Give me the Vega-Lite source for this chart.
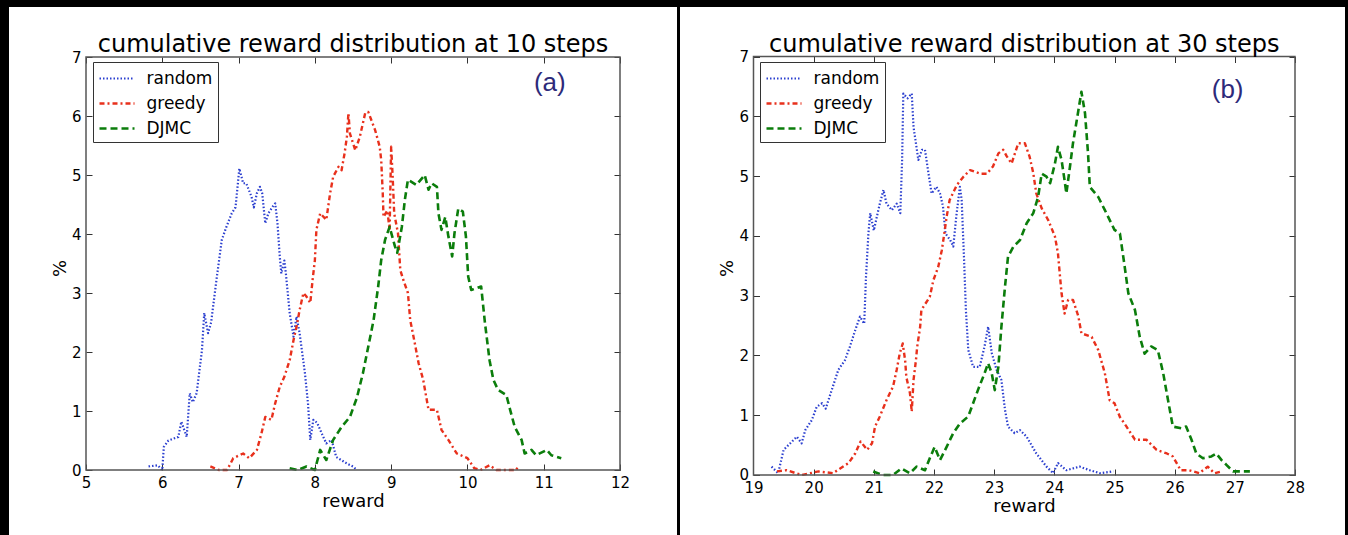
{
  "$schema": "https://vega.github.io/schema/vega-lite/v6.json",
  "background": "black",
  "padding": {"left": 9, "top": 7, "right": 3, "bottom": 0},
  "spacing": 3,
  "config": {
    "view": {"fill": "white", "stroke": null},
    "font": "DejaVu Sans",
    "axis": {"labelFont": "DejaVu Sans", "labelFontSize": 15, "labelColor": "black", "tickColor": "#333", "tickWidth": 1, "grid": false, "domain": false, "titleFont": "DejaVu Sans", "titleFontSize": 18, "titleFontWeight": "normal", "titleColor": "black", "labelFlush": false, "labelOverlap": false},
    "legend": {"orient": "none", "direction": "vertical", "title": null, "strokeColor": "#333", "fillColor": "white", "padding": 5, "cornerRadius": 0, "symbolType": "M-1.75,0H1.75", "symbolSize": 400, "symbolOffset": 7.5, "symbolStrokeWidth": 2.5, "labelFontSize": 17, "labelFont": "DejaVu Sans", "labelColor": "black", "labelOffset": 18, "rowPadding": 5}
  },
  "datasets": {
    "a": [
      {"method": "random", "reward": 5.82, "pct": 0.06}, {"method": "random", "reward": 5.94, "pct": 0.08}, {"method": "random", "reward": 6.0, "pct": 0.0}, {"method": "random", "reward": 6.02, "pct": 0.39}, {"method": "random", "reward": 6.08, "pct": 0.5}, {"method": "random", "reward": 6.21, "pct": 0.56}, {"method": "random", "reward": 6.25, "pct": 0.82}, {"method": "random", "reward": 6.32, "pct": 0.56}, {"method": "random", "reward": 6.36, "pct": 1.3}, {"method": "random", "reward": 6.4, "pct": 1.15}, {"method": "random", "reward": 6.45, "pct": 1.3}, {"method": "random", "reward": 6.52, "pct": 2.03}, {"method": "random", "reward": 6.55, "pct": 2.66}, {"method": "random", "reward": 6.6, "pct": 2.32}, {"method": "random", "reward": 6.64, "pct": 2.5}, {"method": "random", "reward": 6.71, "pct": 3.22}, {"method": "random", "reward": 6.78, "pct": 3.9}, {"method": "random", "reward": 6.84, "pct": 4.12}, {"method": "random", "reward": 6.91, "pct": 4.35}, {"method": "random", "reward": 6.96, "pct": 4.45}, {"method": "random", "reward": 7.01, "pct": 5.11}, {"method": "random", "reward": 7.06, "pct": 4.86}, {"method": "random", "reward": 7.1, "pct": 4.86}, {"method": "random", "reward": 7.17, "pct": 4.63}, {"method": "random", "reward": 7.2, "pct": 4.45}, {"method": "random", "reward": 7.24, "pct": 4.69}, {"method": "random", "reward": 7.28, "pct": 4.8}, {"method": "random", "reward": 7.31, "pct": 4.69}, {"method": "random", "reward": 7.35, "pct": 4.18}, {"method": "random", "reward": 7.39, "pct": 4.35}, {"method": "random", "reward": 7.44, "pct": 4.45}, {"method": "random", "reward": 7.48, "pct": 4.52}, {"method": "random", "reward": 7.51, "pct": 4.18}, {"method": "random", "reward": 7.54, "pct": 3.62}, {"method": "random", "reward": 7.56, "pct": 3.33}, {"method": "random", "reward": 7.6, "pct": 3.55}, {"method": "random", "reward": 7.62, "pct": 3.33}, {"method": "random", "reward": 7.67, "pct": 2.66}, {"method": "random", "reward": 7.72, "pct": 2.26}, {"method": "random", "reward": 7.76, "pct": 2.6}, {"method": "random", "reward": 7.8, "pct": 2.32}, {"method": "random", "reward": 7.87, "pct": 1.64}, {"method": "random", "reward": 7.91, "pct": 1.13}, {"method": "random", "reward": 7.94, "pct": 0.51}, {"method": "random", "reward": 7.98, "pct": 0.85}, {"method": "random", "reward": 8.03, "pct": 0.8}, {"method": "random", "reward": 8.09, "pct": 0.62}, {"method": "random", "reward": 8.15, "pct": 0.45}, {"method": "random", "reward": 8.22, "pct": 0.51}, {"method": "random", "reward": 8.28, "pct": 0.22}, {"method": "random", "reward": 8.42, "pct": 0.11}, {"method": "random", "reward": 8.5, "pct": 0.06}, {"method": "random", "reward": 8.55, "pct": 0.0},
      {"method": "greedy", "reward": 6.63, "pct": 0.06}, {"method": "greedy", "reward": 6.74, "pct": 0.0}, {"method": "greedy", "reward": 6.85, "pct": 0.0}, {"method": "greedy", "reward": 6.93, "pct": 0.2}, {"method": "greedy", "reward": 7.06, "pct": 0.28}, {"method": "greedy", "reward": 7.14, "pct": 0.2}, {"method": "greedy", "reward": 7.24, "pct": 0.34}, {"method": "greedy", "reward": 7.3, "pct": 0.62}, {"method": "greedy", "reward": 7.35, "pct": 0.9}, {"method": "greedy", "reward": 7.43, "pct": 0.85}, {"method": "greedy", "reward": 7.48, "pct": 1.13}, {"method": "greedy", "reward": 7.54, "pct": 1.41}, {"method": "greedy", "reward": 7.6, "pct": 1.58}, {"method": "greedy", "reward": 7.67, "pct": 1.86}, {"method": "greedy", "reward": 7.72, "pct": 2.2}, {"method": "greedy", "reward": 7.76, "pct": 2.43}, {"method": "greedy", "reward": 7.8, "pct": 2.71}, {"method": "greedy", "reward": 7.85, "pct": 3.0}, {"method": "greedy", "reward": 7.89, "pct": 2.94}, {"method": "greedy", "reward": 7.94, "pct": 2.83}, {"method": "greedy", "reward": 7.97, "pct": 3.22}, {"method": "greedy", "reward": 8.0, "pct": 3.55}, {"method": "greedy", "reward": 8.02, "pct": 4.07}, {"method": "greedy", "reward": 8.07, "pct": 4.35}, {"method": "greedy", "reward": 8.15, "pct": 4.24}, {"method": "greedy", "reward": 8.2, "pct": 4.69}, {"method": "greedy", "reward": 8.24, "pct": 4.97}, {"method": "greedy", "reward": 8.31, "pct": 5.14}, {"method": "greedy", "reward": 8.35, "pct": 5.08}, {"method": "greedy", "reward": 8.39, "pct": 5.37}, {"method": "greedy", "reward": 8.42, "pct": 5.65}, {"method": "greedy", "reward": 8.44, "pct": 6.05}, {"method": "greedy", "reward": 8.46, "pct": 5.7}, {"method": "greedy", "reward": 8.53, "pct": 5.42}, {"method": "greedy", "reward": 8.59, "pct": 5.65}, {"method": "greedy", "reward": 8.66, "pct": 6.05}, {"method": "greedy", "reward": 8.7, "pct": 6.07}, {"method": "greedy", "reward": 8.79, "pct": 5.76}, {"method": "greedy", "reward": 8.85, "pct": 5.48}, {"method": "greedy", "reward": 8.87, "pct": 5.25}, {"method": "greedy", "reward": 8.89, "pct": 4.69}, {"method": "greedy", "reward": 8.9, "pct": 4.29}, {"method": "greedy", "reward": 8.95, "pct": 4.4}, {"method": "greedy", "reward": 8.98, "pct": 4.07}, {"method": "greedy", "reward": 9.0, "pct": 5.48}, {"method": "greedy", "reward": 9.02, "pct": 4.97}, {"method": "greedy", "reward": 9.04, "pct": 4.35}, {"method": "greedy", "reward": 9.09, "pct": 4.01}, {"method": "greedy", "reward": 9.12, "pct": 3.39}, {"method": "greedy", "reward": 9.16, "pct": 3.22}, {"method": "greedy", "reward": 9.22, "pct": 3.0}, {"method": "greedy", "reward": 9.25, "pct": 2.54}, {"method": "greedy", "reward": 9.31, "pct": 2.15}, {"method": "greedy", "reward": 9.36, "pct": 1.81}, {"method": "greedy", "reward": 9.42, "pct": 1.53}, {"method": "greedy", "reward": 9.49, "pct": 1.02}, {"method": "greedy", "reward": 9.6, "pct": 1.02}, {"method": "greedy", "reward": 9.66, "pct": 0.68}, {"method": "greedy", "reward": 9.75, "pct": 0.51}, {"method": "greedy", "reward": 9.86, "pct": 0.28}, {"method": "greedy", "reward": 10.0, "pct": 0.2}, {"method": "greedy", "reward": 10.09, "pct": 0.03}, {"method": "greedy", "reward": 10.17, "pct": 0.0}, {"method": "greedy", "reward": 10.29, "pct": 0.08}, {"method": "greedy", "reward": 10.38, "pct": 0.0}, {"method": "greedy", "reward": 10.64, "pct": 0.0}, {"method": "greedy", "reward": 10.66, "pct": 0.06},
      {"method": "DJMC", "reward": 7.67, "pct": 0.03}, {"method": "DJMC", "reward": 7.78, "pct": 0.0}, {"method": "DJMC", "reward": 7.89, "pct": 0.06}, {"method": "DJMC", "reward": 8.0, "pct": 0.0}, {"method": "DJMC", "reward": 8.07, "pct": 0.34}, {"method": "DJMC", "reward": 8.15, "pct": 0.17}, {"method": "DJMC", "reward": 8.24, "pct": 0.51}, {"method": "DJMC", "reward": 8.35, "pct": 0.73}, {"method": "DJMC", "reward": 8.46, "pct": 0.9}, {"method": "DJMC", "reward": 8.55, "pct": 1.22}, {"method": "DJMC", "reward": 8.63, "pct": 1.64}, {"method": "DJMC", "reward": 8.7, "pct": 2.09}, {"method": "DJMC", "reward": 8.77, "pct": 2.54}, {"method": "DJMC", "reward": 8.83, "pct": 3.11}, {"method": "DJMC", "reward": 8.87, "pct": 3.56}, {"method": "DJMC", "reward": 8.92, "pct": 3.9}, {"method": "DJMC", "reward": 8.98, "pct": 4.12}, {"method": "DJMC", "reward": 9.05, "pct": 3.79}, {"method": "DJMC", "reward": 9.08, "pct": 3.68}, {"method": "DJMC", "reward": 9.14, "pct": 4.12}, {"method": "DJMC", "reward": 9.18, "pct": 4.58}, {"method": "DJMC", "reward": 9.22, "pct": 4.92}, {"method": "DJMC", "reward": 9.33, "pct": 4.83}, {"method": "DJMC", "reward": 9.44, "pct": 5.0}, {"method": "DJMC", "reward": 9.49, "pct": 4.75}, {"method": "DJMC", "reward": 9.53, "pct": 4.86}, {"method": "DJMC", "reward": 9.6, "pct": 4.8}, {"method": "DJMC", "reward": 9.62, "pct": 4.35}, {"method": "DJMC", "reward": 9.66, "pct": 4.07}, {"method": "DJMC", "reward": 9.71, "pct": 4.29}, {"method": "DJMC", "reward": 9.75, "pct": 3.96}, {"method": "DJMC", "reward": 9.8, "pct": 3.62}, {"method": "DJMC", "reward": 9.83, "pct": 4.01}, {"method": "DJMC", "reward": 9.88, "pct": 4.43}, {"method": "DJMC", "reward": 9.94, "pct": 4.38}, {"method": "DJMC", "reward": 9.98, "pct": 3.96}, {"method": "DJMC", "reward": 10.01, "pct": 3.28}, {"method": "DJMC", "reward": 10.05, "pct": 3.05}, {"method": "DJMC", "reward": 10.18, "pct": 3.11}, {"method": "DJMC", "reward": 10.23, "pct": 2.49}, {"method": "DJMC", "reward": 10.29, "pct": 1.86}, {"method": "DJMC", "reward": 10.34, "pct": 1.53}, {"method": "DJMC", "reward": 10.4, "pct": 1.36}, {"method": "DJMC", "reward": 10.51, "pct": 1.27}, {"method": "DJMC", "reward": 10.56, "pct": 1.02}, {"method": "DJMC", "reward": 10.62, "pct": 0.73}, {"method": "DJMC", "reward": 10.71, "pct": 0.51}, {"method": "DJMC", "reward": 10.75, "pct": 0.28}, {"method": "DJMC", "reward": 10.84, "pct": 0.34}, {"method": "DJMC", "reward": 10.9, "pct": 0.25}, {"method": "DJMC", "reward": 11.04, "pct": 0.34}, {"method": "DJMC", "reward": 11.1, "pct": 0.25}, {"method": "DJMC", "reward": 11.23, "pct": 0.2}
    ],
    "b": [
      {"method": "random", "reward": 19.3, "pct": 0.14}, {"method": "random", "reward": 19.41, "pct": 0.03}, {"method": "random", "reward": 19.5, "pct": 0.42}, {"method": "random", "reward": 19.58, "pct": 0.5}, {"method": "random", "reward": 19.72, "pct": 0.64}, {"method": "random", "reward": 19.8, "pct": 0.53}, {"method": "random", "reward": 19.86, "pct": 0.75}, {"method": "random", "reward": 19.97, "pct": 0.92}, {"method": "random", "reward": 20.05, "pct": 1.14}, {"method": "random", "reward": 20.14, "pct": 1.2}, {"method": "random", "reward": 20.2, "pct": 1.11}, {"method": "random", "reward": 20.3, "pct": 1.42}, {"method": "random", "reward": 20.41, "pct": 1.76}, {"method": "random", "reward": 20.52, "pct": 1.92}, {"method": "random", "reward": 20.6, "pct": 2.14}, {"method": "random", "reward": 20.69, "pct": 2.42}, {"method": "random", "reward": 20.77, "pct": 2.65}, {"method": "random", "reward": 20.84, "pct": 2.53}, {"method": "random", "reward": 20.87, "pct": 3.32}, {"method": "random", "reward": 20.91, "pct": 4.04}, {"method": "random", "reward": 20.94, "pct": 4.38}, {"method": "random", "reward": 21.0, "pct": 4.09}, {"method": "random", "reward": 21.05, "pct": 4.32}, {"method": "random", "reward": 21.1, "pct": 4.54}, {"method": "random", "reward": 21.16, "pct": 4.77}, {"method": "random", "reward": 21.21, "pct": 4.54}, {"method": "random", "reward": 21.3, "pct": 4.43}, {"method": "random", "reward": 21.38, "pct": 4.54}, {"method": "random", "reward": 21.44, "pct": 4.38}, {"method": "random", "reward": 21.47, "pct": 5.27}, {"method": "random", "reward": 21.49, "pct": 6.38}, {"method": "random", "reward": 21.56, "pct": 6.3}, {"method": "random", "reward": 21.63, "pct": 6.38}, {"method": "random", "reward": 21.66, "pct": 5.82}, {"method": "random", "reward": 21.74, "pct": 5.27}, {"method": "random", "reward": 21.8, "pct": 5.44}, {"method": "random", "reward": 21.85, "pct": 5.44}, {"method": "random", "reward": 21.9, "pct": 5.1}, {"method": "random", "reward": 21.96, "pct": 4.71}, {"method": "random", "reward": 22.04, "pct": 4.82}, {"method": "random", "reward": 22.1, "pct": 4.71}, {"method": "random", "reward": 22.15, "pct": 4.49}, {"method": "random", "reward": 22.19, "pct": 4.04}, {"method": "random", "reward": 22.27, "pct": 3.93}, {"method": "random", "reward": 22.32, "pct": 3.82}, {"method": "random", "reward": 22.37, "pct": 4.32}, {"method": "random", "reward": 22.43, "pct": 4.82}, {"method": "random", "reward": 22.46, "pct": 4.6}, {"method": "random", "reward": 22.5, "pct": 3.6}, {"method": "random", "reward": 22.53, "pct": 2.76}, {"method": "random", "reward": 22.57, "pct": 2.09}, {"method": "random", "reward": 22.65, "pct": 1.81}, {"method": "random", "reward": 22.76, "pct": 1.81}, {"method": "random", "reward": 22.84, "pct": 2.15}, {"method": "random", "reward": 22.9, "pct": 2.48}, {"method": "random", "reward": 22.96, "pct": 2.04}, {"method": "random", "reward": 23.04, "pct": 1.76}, {"method": "random", "reward": 23.12, "pct": 1.59}, {"method": "random", "reward": 23.18, "pct": 1.09}, {"method": "random", "reward": 23.23, "pct": 0.81}, {"method": "random", "reward": 23.34, "pct": 0.7}, {"method": "random", "reward": 23.43, "pct": 0.75}, {"method": "random", "reward": 23.54, "pct": 0.64}, {"method": "random", "reward": 23.7, "pct": 0.36}, {"method": "random", "reward": 23.87, "pct": 0.14}, {"method": "random", "reward": 23.98, "pct": 0.03}, {"method": "random", "reward": 24.06, "pct": 0.2}, {"method": "random", "reward": 24.2, "pct": 0.08}, {"method": "random", "reward": 24.42, "pct": 0.14}, {"method": "random", "reward": 24.59, "pct": 0.08}, {"method": "random", "reward": 24.76, "pct": 0.03}, {"method": "random", "reward": 24.98, "pct": 0.06},
      {"method": "greedy", "reward": 19.39, "pct": 0.06}, {"method": "greedy", "reward": 19.55, "pct": 0.08}, {"method": "greedy", "reward": 19.8, "pct": 0.0}, {"method": "greedy", "reward": 20.08, "pct": 0.06}, {"method": "greedy", "reward": 20.32, "pct": 0.03}, {"method": "greedy", "reward": 20.58, "pct": 0.2}, {"method": "greedy", "reward": 20.69, "pct": 0.36}, {"method": "greedy", "reward": 20.78, "pct": 0.56}, {"method": "greedy", "reward": 20.89, "pct": 0.42}, {"method": "greedy", "reward": 20.97, "pct": 0.53}, {"method": "greedy", "reward": 21.02, "pct": 0.81}, {"method": "greedy", "reward": 21.1, "pct": 0.98}, {"method": "greedy", "reward": 21.21, "pct": 1.25}, {"method": "greedy", "reward": 21.32, "pct": 1.48}, {"method": "greedy", "reward": 21.38, "pct": 1.76}, {"method": "greedy", "reward": 21.43, "pct": 2.03}, {"method": "greedy", "reward": 21.48, "pct": 2.2}, {"method": "greedy", "reward": 21.52, "pct": 1.92}, {"method": "greedy", "reward": 21.54, "pct": 1.64}, {"method": "greedy", "reward": 21.6, "pct": 1.37}, {"method": "greedy", "reward": 21.63, "pct": 1.06}, {"method": "greedy", "reward": 21.66, "pct": 1.59}, {"method": "greedy", "reward": 21.7, "pct": 1.92}, {"method": "greedy", "reward": 21.72, "pct": 2.14}, {"method": "greedy", "reward": 21.77, "pct": 2.48}, {"method": "greedy", "reward": 21.79, "pct": 2.76}, {"method": "greedy", "reward": 21.93, "pct": 2.98}, {"method": "greedy", "reward": 21.99, "pct": 3.26}, {"method": "greedy", "reward": 22.07, "pct": 3.48}, {"method": "greedy", "reward": 22.13, "pct": 3.76}, {"method": "greedy", "reward": 22.18, "pct": 4.1}, {"method": "greedy", "reward": 22.21, "pct": 4.32}, {"method": "greedy", "reward": 22.26, "pct": 4.6}, {"method": "greedy", "reward": 22.38, "pct": 4.85}, {"method": "greedy", "reward": 22.49, "pct": 4.99}, {"method": "greedy", "reward": 22.6, "pct": 5.1}, {"method": "greedy", "reward": 22.77, "pct": 5.04}, {"method": "greedy", "reward": 22.88, "pct": 5.04}, {"method": "greedy", "reward": 22.98, "pct": 5.16}, {"method": "greedy", "reward": 23.07, "pct": 5.38}, {"method": "greedy", "reward": 23.15, "pct": 5.44}, {"method": "greedy", "reward": 23.21, "pct": 5.33}, {"method": "greedy", "reward": 23.29, "pct": 5.21}, {"method": "greedy", "reward": 23.4, "pct": 5.55}, {"method": "greedy", "reward": 23.51, "pct": 5.55}, {"method": "greedy", "reward": 23.59, "pct": 5.32}, {"method": "greedy", "reward": 23.65, "pct": 5.05}, {"method": "greedy", "reward": 23.7, "pct": 4.71}, {"method": "greedy", "reward": 23.79, "pct": 4.46}, {"method": "greedy", "reward": 23.9, "pct": 4.26}, {"method": "greedy", "reward": 24.01, "pct": 3.99}, {"method": "greedy", "reward": 24.06, "pct": 3.71}, {"method": "greedy", "reward": 24.09, "pct": 3.37}, {"method": "greedy", "reward": 24.12, "pct": 3.04}, {"method": "greedy", "reward": 24.17, "pct": 2.7}, {"method": "greedy", "reward": 24.23, "pct": 2.93}, {"method": "greedy", "reward": 24.31, "pct": 2.93}, {"method": "greedy", "reward": 24.4, "pct": 2.65}, {"method": "greedy", "reward": 24.45, "pct": 2.37}, {"method": "greedy", "reward": 24.62, "pct": 2.31}, {"method": "greedy", "reward": 24.73, "pct": 2.09}, {"method": "greedy", "reward": 24.84, "pct": 1.7}, {"method": "greedy", "reward": 24.92, "pct": 1.25}, {"method": "greedy", "reward": 25.0, "pct": 1.2}, {"method": "greedy", "reward": 25.09, "pct": 0.97}, {"method": "greedy", "reward": 25.2, "pct": 0.81}, {"method": "greedy", "reward": 25.34, "pct": 0.59}, {"method": "greedy", "reward": 25.53, "pct": 0.59}, {"method": "greedy", "reward": 25.7, "pct": 0.42}, {"method": "greedy", "reward": 25.87, "pct": 0.36}, {"method": "greedy", "reward": 25.97, "pct": 0.31}, {"method": "greedy", "reward": 26.1, "pct": 0.08}, {"method": "greedy", "reward": 26.24, "pct": 0.08}, {"method": "greedy", "reward": 26.41, "pct": 0.03}, {"method": "greedy", "reward": 26.55, "pct": 0.14}, {"method": "greedy", "reward": 26.66, "pct": 0.03}, {"method": "greedy", "reward": 26.78, "pct": 0.06},
      {"method": "DJMC", "reward": 20.99, "pct": 0.06}, {"method": "DJMC", "reward": 21.15, "pct": 0.0}, {"method": "DJMC", "reward": 21.32, "pct": 0.0}, {"method": "DJMC", "reward": 21.46, "pct": 0.11}, {"method": "DJMC", "reward": 21.6, "pct": 0.03}, {"method": "DJMC", "reward": 21.71, "pct": 0.14}, {"method": "DJMC", "reward": 21.85, "pct": 0.08}, {"method": "DJMC", "reward": 21.93, "pct": 0.28}, {"method": "DJMC", "reward": 22.01, "pct": 0.47}, {"method": "DJMC", "reward": 22.1, "pct": 0.25}, {"method": "DJMC", "reward": 22.21, "pct": 0.47}, {"method": "DJMC", "reward": 22.32, "pct": 0.7}, {"method": "DJMC", "reward": 22.43, "pct": 0.86}, {"method": "DJMC", "reward": 22.57, "pct": 0.98}, {"method": "DJMC", "reward": 22.65, "pct": 1.2}, {"method": "DJMC", "reward": 22.73, "pct": 1.42}, {"method": "DJMC", "reward": 22.84, "pct": 1.7}, {"method": "DJMC", "reward": 22.9, "pct": 1.87}, {"method": "DJMC", "reward": 22.96, "pct": 1.7}, {"method": "DJMC", "reward": 23.01, "pct": 1.42}, {"method": "DJMC", "reward": 23.07, "pct": 1.81}, {"method": "DJMC", "reward": 23.12, "pct": 2.48}, {"method": "DJMC", "reward": 23.18, "pct": 3.15}, {"method": "DJMC", "reward": 23.23, "pct": 3.65}, {"method": "DJMC", "reward": 23.32, "pct": 3.82}, {"method": "DJMC", "reward": 23.43, "pct": 3.93}, {"method": "DJMC", "reward": 23.54, "pct": 4.21}, {"method": "DJMC", "reward": 23.65, "pct": 4.38}, {"method": "DJMC", "reward": 23.73, "pct": 4.65}, {"method": "DJMC", "reward": 23.79, "pct": 5.04}, {"method": "DJMC", "reward": 23.87, "pct": 4.99}, {"method": "DJMC", "reward": 23.93, "pct": 4.88}, {"method": "DJMC", "reward": 24.01, "pct": 5.21}, {"method": "DJMC", "reward": 24.06, "pct": 5.49}, {"method": "DJMC", "reward": 24.12, "pct": 5.27}, {"method": "DJMC", "reward": 24.17, "pct": 4.93}, {"method": "DJMC", "reward": 24.2, "pct": 4.71}, {"method": "DJMC", "reward": 24.26, "pct": 5.16}, {"method": "DJMC", "reward": 24.31, "pct": 5.55}, {"method": "DJMC", "reward": 24.4, "pct": 6.1}, {"method": "DJMC", "reward": 24.45, "pct": 6.41}, {"method": "DJMC", "reward": 24.51, "pct": 6.05}, {"method": "DJMC", "reward": 24.56, "pct": 5.38}, {"method": "DJMC", "reward": 24.59, "pct": 4.82}, {"method": "DJMC", "reward": 24.73, "pct": 4.65}, {"method": "DJMC", "reward": 24.84, "pct": 4.43}, {"method": "DJMC", "reward": 25.0, "pct": 4.1}, {"method": "DJMC", "reward": 25.09, "pct": 4.04}, {"method": "DJMC", "reward": 25.17, "pct": 3.48}, {"method": "DJMC", "reward": 25.23, "pct": 3.04}, {"method": "DJMC", "reward": 25.34, "pct": 2.76}, {"method": "DJMC", "reward": 25.42, "pct": 2.31}, {"method": "DJMC", "reward": 25.5, "pct": 2.03}, {"method": "DJMC", "reward": 25.61, "pct": 2.15}, {"method": "DJMC", "reward": 25.72, "pct": 2.09}, {"method": "DJMC", "reward": 25.81, "pct": 1.7}, {"method": "DJMC", "reward": 25.89, "pct": 1.25}, {"method": "DJMC", "reward": 25.97, "pct": 0.81}, {"method": "DJMC", "reward": 26.11, "pct": 0.78}, {"method": "DJMC", "reward": 26.19, "pct": 0.81}, {"method": "DJMC", "reward": 26.28, "pct": 0.59}, {"method": "DJMC", "reward": 26.36, "pct": 0.36}, {"method": "DJMC", "reward": 26.47, "pct": 0.28}, {"method": "DJMC", "reward": 26.61, "pct": 0.31}, {"method": "DJMC", "reward": 26.69, "pct": 0.36}, {"method": "DJMC", "reward": 26.78, "pct": 0.25}, {"method": "DJMC", "reward": 26.86, "pct": 0.17}, {"method": "DJMC", "reward": 26.97, "pct": 0.06}, {"method": "DJMC", "reward": 27.08, "pct": 0.06}, {"method": "DJMC", "reward": 27.25, "pct": 0.06}
    ]
  },
  "resolve": {"scale": {"color": "independent", "strokeDash": "independent", "strokeWidth": "independent"}, "legend": {"color": "independent", "strokeDash": "independent"}},
  "hconcat": [
    {
      "width": 668,
      "height": 528,
      "layer": [
        {
          "data": {"name": "a"},
          "mark": {"type": "line", "strokeCap": "butt", "strokeJoin": "round"},
          "encoding": {
            "x": {"field": "reward", "type": "quantitative", "scale": {"domain": [3.9906, 12.7472], "nice": false, "zero": false},
              "axis": {"orient": "bottom", "offset": -65, "values": [5, 6, 7, 8, 9, 10, 11, 12], "format": "d", "tickSize": -6, "labelPadding": 11, "title": "reward", "titleX": 344, "titleY": 31, "titleBaseline": "middle"}},
            "y": {"field": "pct", "type": "quantitative", "scale": {"domain": [-1.1017, 7.8475], "nice": false, "zero": false},
              "axis": {"orient": "left", "offset": -77, "values": [0, 1, 2, 3, 4, 5, 6, 7], "format": "d", "tickSize": -6, "labelPadding": 11, "title": "%", "titleX": -26, "titleY": 261, "titleBaseline": "middle", "titleAngle": -90}},
            "color": {"field": "method", "type": "nominal", "scale": {"domain": ["random", "greedy", "DJMC"], "range": ["#2b3fcf", "#e8301c", "#0b7d0b"]},
              "legend": {"legendX": 84, "legendY": 55}},
            "strokeDash": {"field": "method", "type": "nominal", "scale": {"domain": ["random", "greedy", "DJMC"], "range": [[1.5, 2], [5, 3, 2, 3], [7, 4]]},
              "legend": {"legendX": 84, "legendY": 55}},
            "strokeWidth": {"field": "method", "type": "nominal", "scale": {"domain": ["random", "greedy", "DJMC"], "range": [2.2, 2.6, 3.5]}, "legend": null}
          }
        },
        {
          "data": {"values": [{}]},
          "mark": {"type": "rect", "fillOpacity": 0, "stroke": "#555", "strokeWidth": 1.5},
          "encoding": {
            "x": {"datum": 5, "type": "quantitative", "scale": {"domain": [3.9906, 12.7472], "nice": false, "zero": false},
              "axis": {"orient": "top", "offset": -50, "values": [5, 6, 7, 8, 9, 10, 11, 12], "tickSize": -6, "labels": false, "title": null}},
            "x2": {"datum": 12},
            "y": {"datum": 0, "type": "quantitative", "scale": {"domain": [-1.1017, 7.8475], "nice": false, "zero": false},
              "axis": {"orient": "right", "offset": -57, "values": [0, 1, 2, 3, 4, 5, 6, 7], "tickSize": -6, "labels": false, "title": null}},
            "y2": {"datum": 7}
          }
        },
        {
          "data": {"values": [{}]},
          "mark": {"type": "text", "text": "cumulative reward distribution at 10 steps", "font": "DejaVu Sans", "fontSize": 24, "baseline": "alphabetic", "align": "center", "dy": -5, "color": "black"},
          "encoding": {
            "x": {"datum": 8.5, "type": "quantitative", "scale": {"domain": [3.9906, 12.7472], "nice": false, "zero": false}, "axis": null},
            "y": {"datum": 7, "type": "quantitative", "scale": {"domain": [-1.1017, 7.8475], "nice": false, "zero": false}, "axis": null}
          }
        },
        {
          "data": {"values": [{}]},
          "mark": {"type": "text", "text": "(a)", "font": "Liberation Sans", "fontSize": 26, "baseline": "middle", "align": "center", "color": "#2d2a7a"},
          "encoding": {
            "x": {"datum": 11.08, "type": "quantitative", "scale": {"domain": [3.9906, 12.7472], "nice": false, "zero": false}, "axis": null},
            "y": {"datum": 6.56, "type": "quantitative", "scale": {"domain": [-1.1017, 7.8475], "nice": false, "zero": false}, "axis": null}
          }
        }
      ],
      "resolve": {"axis": {"x": "independent", "y": "independent"}}
    },
    {
      "width": 665,
      "height": 528,
      "layer": [
        {
          "data": {"name": "b"},
          "mark": {"type": "line", "strokeCap": "butt", "strokeJoin": "round"},
          "encoding": {
            "x": {"field": "reward", "type": "quantitative", "scale": {"domain": [17.7784, 28.831], "nice": false, "zero": false},
              "axis": {"orient": "bottom", "offset": -60, "values": [19, 20, 21, 22, 23, 24, 25, 26, 27, 28], "format": "d", "tickSize": -6, "labelPadding": 11, "title": "reward", "titleX": 344, "titleY": 31, "titleBaseline": "middle"}},
            "y": {"field": "pct", "type": "quantitative", "scale": {"domain": [-1.0036, 7.828], "nice": false, "zero": false},
              "axis": {"orient": "left", "offset": -73.5, "values": [0, 1, 2, 3, 4, 5, 6, 7], "format": "d", "tickSize": -6, "labelPadding": 11, "title": "%", "titleX": -26, "titleY": 261, "titleBaseline": "middle", "titleAngle": -90}},
            "color": {"field": "method", "type": "nominal", "scale": {"domain": ["random", "greedy", "DJMC"], "range": ["#2b3fcf", "#e8301c", "#0b7d0b"]},
              "legend": {"legendX": 80, "legendY": 55}},
            "strokeDash": {"field": "method", "type": "nominal", "scale": {"domain": ["random", "greedy", "DJMC"], "range": [[1.5, 2], [5, 3, 2, 3], [7, 4]]},
              "legend": {"legendX": 80, "legendY": 55}},
            "strokeWidth": {"field": "method", "type": "nominal", "scale": {"domain": ["random", "greedy", "DJMC"], "range": [2.2, 2.6, 3.5]}, "legend": null}
          }
        },
        {
          "data": {"values": [{}]},
          "mark": {"type": "rect", "fillOpacity": 0, "stroke": "#555", "strokeWidth": 1.5},
          "encoding": {
            "x": {"datum": 19, "type": "quantitative", "scale": {"domain": [17.7784, 28.831], "nice": false, "zero": false},
              "axis": {"orient": "top", "offset": -49.5, "values": [19, 20, 21, 22, 23, 24, 25, 26, 27, 28], "tickSize": -6, "labels": false, "title": null}},
            "x2": {"datum": 28},
            "y": {"datum": 0, "type": "quantitative", "scale": {"domain": [-1.0036, 7.828], "nice": false, "zero": false},
              "axis": {"orient": "right", "offset": -50, "values": [0, 1, 2, 3, 4, 5, 6, 7], "tickSize": -6, "labels": false, "title": null}},
            "y2": {"datum": 7}
          }
        },
        {
          "data": {"values": [{}]},
          "mark": {"type": "text", "text": "cumulative reward distribution at 30 steps", "font": "DejaVu Sans", "fontSize": 24, "baseline": "alphabetic", "align": "center", "dy": -5, "color": "black"},
          "encoding": {
            "x": {"datum": 23.5, "type": "quantitative", "scale": {"domain": [17.7784, 28.831], "nice": false, "zero": false}, "axis": null},
            "y": {"datum": 7, "type": "quantitative", "scale": {"domain": [-1.0036, 7.828], "nice": false, "zero": false}, "axis": null}
          }
        },
        {
          "data": {"values": [{}]},
          "mark": {"type": "text", "text": "(b)", "font": "Liberation Sans", "fontSize": 26, "baseline": "middle", "align": "center", "color": "#2d2a7a"},
          "encoding": {
            "x": {"datum": 26.88, "type": "quantitative", "scale": {"domain": [17.7784, 28.831], "nice": false, "zero": false}, "axis": null},
            "y": {"datum": 6.44, "type": "quantitative", "scale": {"domain": [-1.0036, 7.828], "nice": false, "zero": false}, "axis": null}
          }
        }
      ],
      "resolve": {"axis": {"x": "independent", "y": "independent"}}
    }
  ]
}
